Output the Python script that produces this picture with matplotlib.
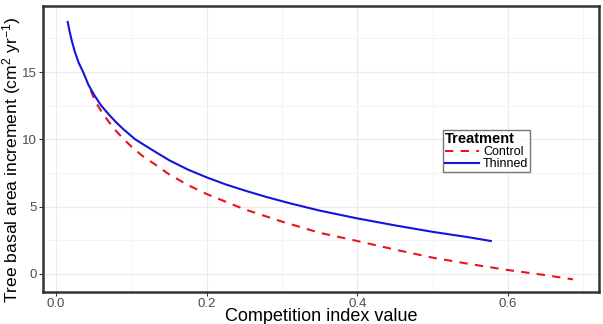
import matplotlib
matplotlib.use("Agg")
import matplotlib.pyplot as plt
from matplotlib.ticker import MultipleLocator

plt.rcParams['font.family'] = ['Liberation Sans', 'DejaVu Sans']
plt.rcParams['mathtext.fontset'] = 'custom'
plt.rcParams['mathtext.rm'] = 'Liberation Sans'
plt.rcParams['mathtext.it'] = 'Liberation Sans'

# Data
x_thinned = [0.0155, 0.018, 0.021, 0.025, 0.03, 0.036, 0.043, 0.05, 0.06, 0.07,
             0.08, 0.09, 0.105, 0.125, 0.15, 0.175, 0.2, 0.225, 0.25, 0.28,
             0.31, 0.35, 0.4, 0.45, 0.5, 0.55, 0.577]
y_thinned = [18.72, 18.03, 17.3, 16.5, 15.7, 15.0, 14.05, 13.35, 12.5, 11.85,
             11.25, 10.72, 10.0, 9.3, 8.45, 7.75, 7.17, 6.65, 6.2, 5.7,
             5.25, 4.7, 4.12, 3.6, 3.12, 2.7, 2.44]

x_control = [0.046, 0.05, 0.055, 0.06, 0.07, 0.08, 0.09, 0.1, 0.115, 0.131,
             0.15, 0.175, 0.2, 0.25, 0.3, 0.35, 0.4, 0.45, 0.5, 0.55,
             0.6, 0.65, 0.686]
y_control = [13.65, 13.1, 12.55, 12.1, 11.3, 10.6, 10.0, 9.46, 8.75, 8.15,
             7.4, 6.6, 5.93, 4.8, 3.88, 3.05, 2.44, 1.8, 1.2, 0.72,
             0.28, -0.1, -0.41]

x_ticks = [0.0, 0.2, 0.4, 0.6]
x_ticklabels = ['0.0', '0.2', '0.4', '0.6']
y_ticks = [0, 5, 10, 15]
y_ticklabels = ['0', '5', '10', '15']

fig = plt.figure(figsize=(6.03, 3.24), dpi=100)
ax = fig.add_axes([43/603, 1-292/324, (599-43)/603, (292-6)/324])

ax.plot(x_control, y_control, color='#e8141e', lw=1.5, ls=(0, (4, 3.5)),
        label='Control', zorder=3)
ax.plot(x_thinned, y_thinned, color='#1414dc', lw=1.5, ls='-',
        label='Thinned', zorder=3)

ax.set_xlim(-0.0173, 0.7206)
ax.set_ylim(-1.35, 19.91)

ax.set_xticks(x_ticks)
ax.set_xticklabels(x_ticklabels)
ax.set_yticks(y_ticks)
ax.set_yticklabels(y_ticklabels)
ax.xaxis.set_minor_locator(MultipleLocator(0.1))
ax.yaxis.set_minor_locator(MultipleLocator(2.5))

ax.grid(which='major', color='#ebebeb', lw=0.8, zorder=0)
ax.grid(which='minor', color='#f2f2f2', lw=0.6, zorder=0)
ax.set_axisbelow(True)

ax.tick_params(which='major', length=3, width=0.8, color='#333333',
               labelsize=9.5, labelcolor='#4d4d4d', pad=1.5)
ax.tick_params(which='minor', length=0)

for s in ax.spines.values():
    s.set_color('#333333')
    s.set_linewidth(1.8)

ax.set_xlabel('Competition index value', fontsize=13, labelpad=-1.5)
ax.set_ylabel(r'Tree basal area increment $\mathregular{(cm^2\ yr^{-1})}$',
              fontsize=12.6)
ax.yaxis.label.set_va('center')
ax.yaxis.set_label_coords(-(43 - 11.5) / 556, (292 - 160) / 286)

leg = ax.legend(title='Treatment', loc='upper left',
                bbox_to_anchor=(443/603, 1-130/324),
                bbox_transform=fig.transFigure, borderaxespad=0,
                fontsize=9, title_fontsize=10.5, frameon=True,
                fancybox=False, edgecolor='#555555', handlelength=2.7,
                handletextpad=0.35, borderpad=0.15, labelspacing=0.0,
                handleheight=0.6)
leg.get_title().set_fontweight('bold')
leg._legend_box.align = 'left'
leg.get_frame().set_linewidth(1.0)

fig.savefig('out.png', dpi=100)
